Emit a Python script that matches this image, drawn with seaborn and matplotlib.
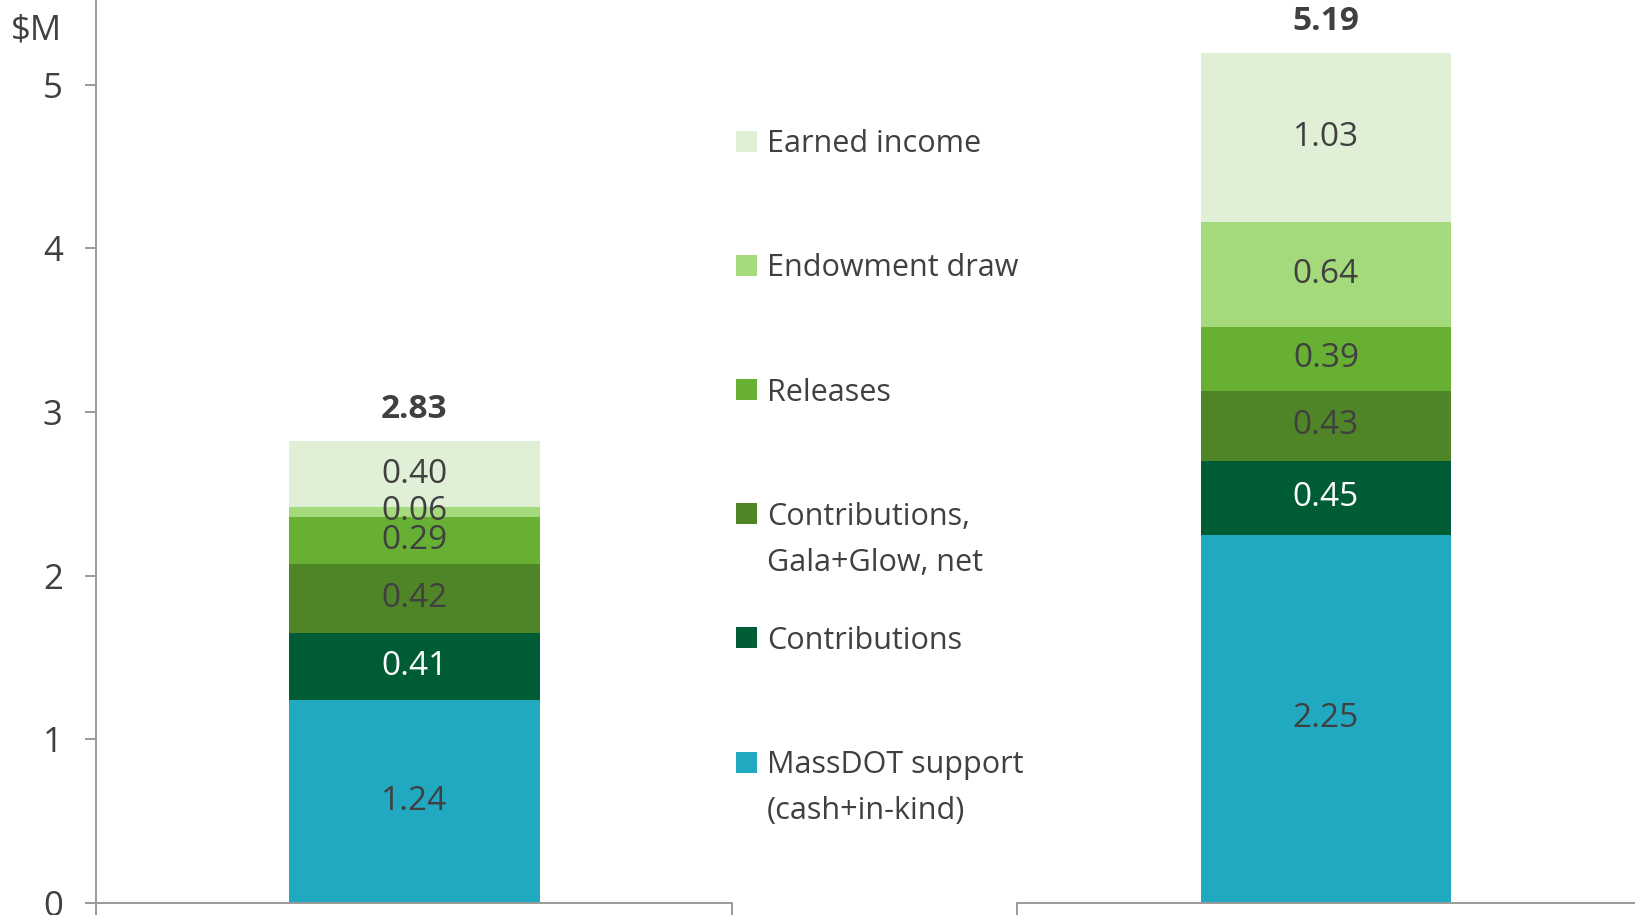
import numpy as np
import pandas as pd
import matplotlib
matplotlib.use("Agg")
import matplotlib.pyplot as plt
from matplotlib.patches import Rectangle
import seaborn as sns

# Data, $M (category names are cropped off in the source)
categories = ["Year A", "Year B"]
series = ["massdot", "contrib", "gala", "releases", "endowment", "earned"]
legend_labels = ["MassDOT support\n(cash+in-kind)", "Contributions",
                 "Contributions,\nGala+Glow, net", "Releases",
                 "Endowment draw", "Earned income"]
massdot = [1.24, 2.25]
contrib = [0.41, 0.45]
gala = [0.42, 0.43]
releases = [0.29, 0.39]
endowment = [0.06, 0.64]
earned = [0.40, 1.03]
totals = ["2.83", "5.19"]

colors = ["#21a9c1", "#005c35", "#4f8427", "#68b034", "#a4d97c", "#e0f0d6"]
text_colors = ["#404040", "white", "#404040", "#404040", "#404040", "#404040"]
dark = "#404040"
axis_gray = "#9a9a9a"

df = pd.DataFrame({"category": categories, "massdot": massdot, "contrib": contrib,
                   "gala": gala, "releases": releases, "endowment": endowment,
                   "earned": earned})
cum = df[series].cumsum(axis=1)
cum["category"] = df["category"]

sns.set_style("white")
plt.rcParams["font.family"] = ["Open Sans", "DejaVu Sans"]

W, H = 1635, 915
fig = plt.figure(figsize=(W / 100, H / 100), dpi=100)
ax = fig.add_axes([96 / W, 0, 1 - 96 / W, 1])

bar_w = 0.275
# stacked bars: draw cumulative totals from the top down
for s, c in zip(reversed(series), reversed(colors)):
    sns.barplot(data=cum, x="category", y=s, color=c, saturation=1,
                width=bar_w, linewidth=0, errorbar=None, ax=ax)

# segment labels
for i in range(len(categories)):
    base = 0
    for s, tc in zip(series, text_colors):
        v = df.loc[i, s]
        ax.text(i, base + v / 2, f"{v:.2f}", ha="center", va="center",
                fontsize=24, color=tc)
        base += v
    ax.annotate(totals[i], (i, base), xytext=(0, 23), textcoords="offset points",
                ha="center", va="center", fontsize=24, fontweight="bold", color=dark)

ax.set_xlim(-0.349, 1.339)
ax.set_ylim(-12 / 163.7, 903 / 163.7)
ax.set_yticks(range(0, 6))
ax.set_xticks([])
ax.set_xlabel("")
ax.set_ylabel("")
ax.tick_params(axis="y", length=8, width=1.4, color=axis_gray, pad=16,
               labelsize=25, labelcolor=dark, left=True)
for side in ["top", "right", "bottom"]:
    ax.spines[side].set_visible(False)
ax.spines["left"].set_color(axis_gray)
ax.spines["left"].set_linewidth(1.4)

# broken category axis: one segment per category with end ticks
seg_lo = [0.349, 0.339]
seg_hi = [0.349, 0.349]
ylo = ax.get_ylim()[0]
for i in range(len(categories)):
    a, b = i - seg_lo[i], i + seg_hi[i]
    ax.plot([a, b], [0, 0], color=axis_gray, lw=1.4, clip_on=False)
    ax.vlines([a, b], ylo, 0, color=axis_gray, lw=1.4)

fig.text(62 / W, 1 - 30 / H, r"\$M", ha="right", va="center", fontsize=25, color=dark)

# legend, top to bottom
row0, pitch = 141.5, 124.1
for k, (lab, c) in enumerate(zip(reversed(legend_labels), reversed(colors))):
    yc = row0 + k * pitch
    fig.patches.append(Rectangle((736 / W, 1 - (yc + 10.5) / H), 21 / W, 21 / H,
                                 transform=fig.transFigure, color=c, lw=0))
    for j, line in enumerate(lab.split("\n")):
        fig.text(767 / W, 1 - (yc + 10.9 + j * 46) / H, line, ha="left",
                 va="baseline", fontsize=22, color=dark)

fig.savefig("out.png", dpi=100)
